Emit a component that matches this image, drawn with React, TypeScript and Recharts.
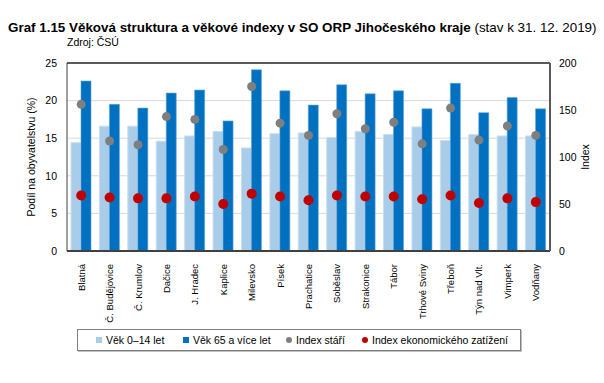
import React from "react";
import {
  ComposedChart,
  Bar,
  Scatter,
  XAxis,
  YAxis,
  CartesianGrid,
  ReferenceLine,
} from "recharts";

const orp = [
  "Blatná", "Č. Budějovice", "Č. Krumlov", "Dačice", "J. Hradec", "Kaplice",
  "Milevsko", "Písek", "Prachatice", "Soběslav", "Strakonice", "Tábor",
  "Trhové Sviny", "Třeboň", "Týn nad Vlt.", "Vimperk", "Vodňany",
];
const vek014 = [14.4, 16.6, 16.6, 14.6, 15.3, 15.9, 13.7, 15.6, 15.7, 15.1, 15.9, 15.5, 16.5, 14.7, 15.5, 15.3, 15.3];
const vek65 = [22.6, 19.5, 19.0, 21.0, 21.4, 17.3, 24.1, 21.3, 19.4, 22.1, 20.9, 21.3, 18.9, 22.3, 18.4, 20.4, 18.9];
const indexStari = [156, 117, 113, 143, 140, 108, 175, 136, 123, 146, 130, 137, 114, 152, 118, 133, 123];
const indexZatizeni = [59, 57, 56, 56, 58, 50, 61, 58, 54, 59, 58, 58, 55, 59, 51, 56, 52];
const leftTicks = [0, 5, 10, 15, 20, 25];
const rightTicks = [0, 50, 100, 150, 200];

const data = orp.map((name, i) => ({
  name,
  young: vek014[i],
  old: vek65[i],
  stari: indexStari[i],
  zatizeni: indexZatizeni[i],
}));

const FONT = "'Liberation Sans', Arial, sans-serif";
const LIGHT = "#A9CCE8";
const DARK = "#0070C0";
const GRAY = "#7F7F7F";
const RED = "#C00000";

const XTick = (props: any) => {
  const { x, y, payload } = props;
  return (
    <g transform={`translate(${x},${y + 5})`}>
      <text
        transform="rotate(-90)"
        textAnchor="end"
        dy={3.5}
        fontSize={9.5}
        fontFamily={FONT}
        fill="#000"
      >
        {payload.value}
      </text>
    </g>
  );
};

const Dot = (color: string, r: number) => (props: any) => {
  const { cx, cy } = props;
  return <circle cx={cx} cy={cy} r={r} fill={color} />;
};

const legendItems = [
  { label: "Věk 0–14 let", color: LIGHT, shape: "square", left: 18 },
  { label: "Věk 65 a více let", color: DARK, shape: "square", left: 105 },
  { label: "Index stáří", color: GRAY, shape: "circle", left: 208 },
  { label: "Index ekonomického zatížení", color: RED, shape: "circle", left: 284 },
];

export default function App() {
  return (
    <div
      style={{
        position: "absolute",
        left: 0,
        top: 0,
        width: 604,
        height: 383,
        background: "#fff",
        fontFamily: FONT,
      }}
    >
      <div style={{ position: "absolute", left: 8, top: 20, fontSize: 13.4, whiteSpace: "nowrap" }}>
        <b>Graf 1.15 Věková struktura a věkové indexy v SO ORP Jihočeského kraje</b> (stav k 31. 12. 2019)
      </div>
      <div style={{ position: "absolute", left: 67, top: 36, fontSize: 10.5 }}>Zdroj: ČSÚ</div>

      <div style={{ position: "absolute", left: 0, top: 0 }}>
        <ComposedChart
          width={604}
          height={383}
          data={data}
          barSize={10}
          barGap={0}
          margin={{ top: 63, right: 14, left: 20, bottom: 52 }}
        >
          <CartesianGrid vertical={false} stroke="#D9D9D9" yAxisId="left" />
          <XAxis
            dataKey="name"
            interval={0}
            height={80}
            tickLine={false}
            axisLine={{ stroke: "#404040", strokeWidth: 2 }}
            tick={<XTick />}
          />
          <YAxis
            yAxisId="left"
            width={47}
            domain={[0, 25]}
            ticks={leftTicks}
            tickLine={false}
            tickMargin={4}
            axisLine={{ stroke: "#404040" }}
            tick={{ fontSize: 10.5, fill: "#000", fontFamily: FONT }}
            label={{
              content: (p: any) => {
                const vb = p.viewBox;
                const cx = vb.x + 11;
                const cy = vb.y + vb.height / 2;
                return (
                  <text
                    x={cx}
                    y={cy}
                    transform={`rotate(-90 ${cx} ${cy})`}
                    textAnchor="middle"
                    dominantBaseline="central"
                    fontSize={10.5}
                    fontFamily={FONT}
                  >
                    Podíl na obyvatelstvu (%)
                  </text>
                );
              },
            }}
          />
          <YAxis
            yAxisId="right"
            orientation="right"
            width={40}
            domain={[0, 200]}
            ticks={rightTicks}
            tickLine={false}
            tickMargin={3}
            axisLine={{ stroke: "#595959", strokeWidth: 2 }}
            tick={{ fontSize: 10.5, fill: "#000", fontFamily: FONT, textAnchor: "start" }}
            label={{
              content: (p: any) => {
                const vb = p.viewBox;
                const cx = vb.x + 35;
                const cy = vb.y + vb.height / 2;
                return (
                  <text
                    x={cx}
                    y={cy}
                    transform={`rotate(-90 ${cx} ${cy})`}
                    textAnchor="middle"
                    dominantBaseline="central"
                    fontSize={10.5}
                    fontFamily={FONT}
                  >
                    Index
                  </text>
                );
              },
            }}
          />
          <ReferenceLine yAxisId="left" y={25} stroke="#595959" strokeWidth={2} />
          <Bar yAxisId="left" dataKey="young" fill={LIGHT} stroke="#C8DFF1" strokeWidth={1} isAnimationActive={false} />
          <Bar yAxisId="left" dataKey="old" fill={DARK} stroke="#5FA3D8" strokeWidth={0.6} isAnimationActive={false} />
          <Scatter yAxisId="right" dataKey="stari" fill={GRAY} shape={Dot(GRAY, 4.5)} isAnimationActive={false} />
          <Scatter yAxisId="right" dataKey="zatizeni" fill={RED} shape={Dot(RED, 5)} isAnimationActive={false} />
        </ComposedChart>
      </div>

      <div
        style={{
          position: "absolute",
          left: 77,
          top: 329,
          width: 444,
          height: 22,
          border: "1px solid #7F7F7F",
          boxShadow: "1px 1px 0 #BFBFBF",
          fontSize: 10.5,
          boxSizing: "border-box",
        }}
      >
        {legendItems.map((it) => (
          <div
            key={it.label}
            style={{
              position: "absolute",
              left: it.left,
              top: 0,
              height: 20,
              display: "flex",
              alignItems: "center",
              whiteSpace: "nowrap",
            }}
          >
            <span
              style={{
                display: "inline-block",
                width: 6,
                height: 6,
                background: it.color,
                borderRadius: it.shape === "circle" ? 3 : 0,
                marginRight: 4,
              }}
            />
            {it.label}
          </div>
        ))}
      </div>
    </div>
  );
}
